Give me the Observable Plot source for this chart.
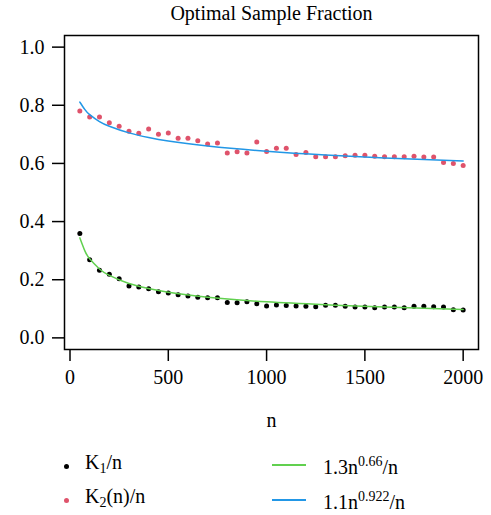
<!DOCTYPE html>
<html>
<head>
<meta charset="utf-8">
<script src="https://cdn.jsdelivr.net/npm/d3@7"></script>
<script src="https://cdn.jsdelivr.net/npm/@observablehq/plot@0.6"></script>
<style>
  body { margin: 0; background: #fff; font-family: "Liberation Serif", "DejaVu Serif", serif; color: #000; }
  #wrap { position: relative; width: 491px; height: 515px; overflow: hidden; }
  #chart { position: absolute; left: 0; top: 0; }
  .leg { position: absolute; font-size: 20px; line-height: 0; white-space: nowrap; }
  .sub { font-size: 14px; position: relative; top: 4px; }
  .sup { font-size: 14px; position: relative; top: -8px; }
  .sym-dot { position: absolute; width: 5px; height: 5px; border-radius: 50%; }
  .sym-line { position: absolute; width: 34px; height: 2px; }
</style>
</head>
<body>
<div id="wrap">
  <div id="chart"></div>
  <div class="sym-dot" style="left:64px;top:463.5px;background:#000"></div>
  <div class="leg" style="left:85px;top:461.5px">K<span class="sub">1</span>/n</div>
  <div class="sym-dot" style="left:64px;top:498.2px;background:#DF536B"></div>
  <div class="leg" style="left:85px;top:495.5px">K<span class="sub">2</span>(n)/n</div>
  <div class="sym-line" style="left:272px;top:464px;background:#61D04F"></div>
  <div class="leg" style="left:323px;top:466.5px">1.3n<span class="sup">0.66</span>/n</div>
  <div class="sym-line" style="left:272px;top:499px;background:#2297E6"></div>
  <div class="leg" style="left:323px;top:501.5px">1.1n<span class="sup">0.922</span>/n</div>
</div>
<script>
const nValues = [50,100,150,200,250,300,350,400,450,500,550,600,650,700,750,800,850,900,950,1000,
                 1050,1100,1150,1200,1250,1300,1350,1400,1450,1500,1550,1600,1650,1700,1750,1800,1850,1900,1950,2000];
const k1 = [0.359,0.269,0.233,0.219,0.203,0.178,0.175,0.169,0.159,0.154,0.148,0.144,0.140,0.138,0.138,0.122,0.121,0.124,0.117,0.110,
            0.113,0.111,0.110,0.109,0.107,0.112,0.112,0.109,0.106,0.106,0.104,0.106,0.106,0.104,0.109,0.109,0.107,0.106,0.097,0.096];
const k2 = [0.780,0.760,0.760,0.740,0.728,0.711,0.704,0.718,0.700,0.705,0.687,0.687,0.678,0.667,0.670,0.636,0.640,0.636,0.674,0.641,
            0.652,0.652,0.631,0.638,0.623,0.623,0.623,0.626,0.628,0.628,0.625,0.623,0.623,0.623,0.625,0.622,0.622,0.603,0.600,0.593];
const curveN = [50,75,100,150,200,300,400,500,700,1000,1300,1600,2000];
const fit1 = [0.344,0.300,0.272,0.237,0.215,0.187,0.170,0.157,0.140,0.124,0.114,0.106,0.098];
const fit2 = [0.811,0.786,0.768,0.744,0.728,0.705,0.689,0.677,0.660,0.642,0.629,0.619,0.608];
const xTicks = [0,500,1000,1500,2000];
const yTicks = [0,0.2,0.4,0.6,0.8,1.0];
const titleText = "Optimal Sample Fraction";
const xLabel = "n";

const pts1 = nValues.map((n,i) => ({n, v: k1[i]}));
const pts2 = nValues.map((n,i) => ({n, v: k2[i]}));
const line1 = curveN.map((n,i) => ({n, v: fit1[i]}));
const line2 = curveN.map((n,i) => ({n, v: fit2[i]}));

const chart = Plot.plot({
  width: 491,
  height: 440,
  marginLeft: 64,
  marginRight: 13,
  marginTop: 35,
  marginBottom: 91,
  style: {fontFamily: '"Liberation Serif", "DejaVu Serif", serif', fontSize: "20px", color: "#000", background: "#fff", overflow: "visible"},
  x: {domain: [-28, 2078]},
  y: {domain: [-0.04, 1.04]},
  marks: [
    Plot.dot(pts1, {x: "n", y: "v", r: 2.5, fill: "#000", stroke: null}),
    Plot.dot(pts2, {x: "n", y: "v", r: 2.5, fill: "#DF536B", stroke: null}),
    Plot.line(line1, {x: "n", y: "v", stroke: "#61D04F", strokeWidth: 1.5, curve: "natural"}),
    Plot.line(line2, {x: "n", y: "v", stroke: "#2297E6", strokeWidth: 1.5, curve: "natural"}),
    Plot.frame({stroke: "#000", strokeWidth: 1.5}),
    Plot.axisX({ticks: xTicks, tickSize: 12, tickPadding: 8, tickFormat: d => String(d), label: null, strokeWidth: 1.5, fontSize: 20}),
    Plot.axisY({ticks: yTicks, tickSize: 12, tickPadding: 8, tickFormat: d3.format(".1f"), label: null, strokeWidth: 1.5, fontSize: 20}),
    Plot.text([titleText], {text: d => d, frameAnchor: "top", lineAnchor: "bottom", dy: -16, fontSize: 20}),
    Plot.text([xLabel], {text: d => d, frameAnchor: "bottom", lineAnchor: "bottom", dy: 77, fontSize: 20})
  ]
});
document.getElementById("chart").appendChild(chart);
</script>
</body>
</html>
